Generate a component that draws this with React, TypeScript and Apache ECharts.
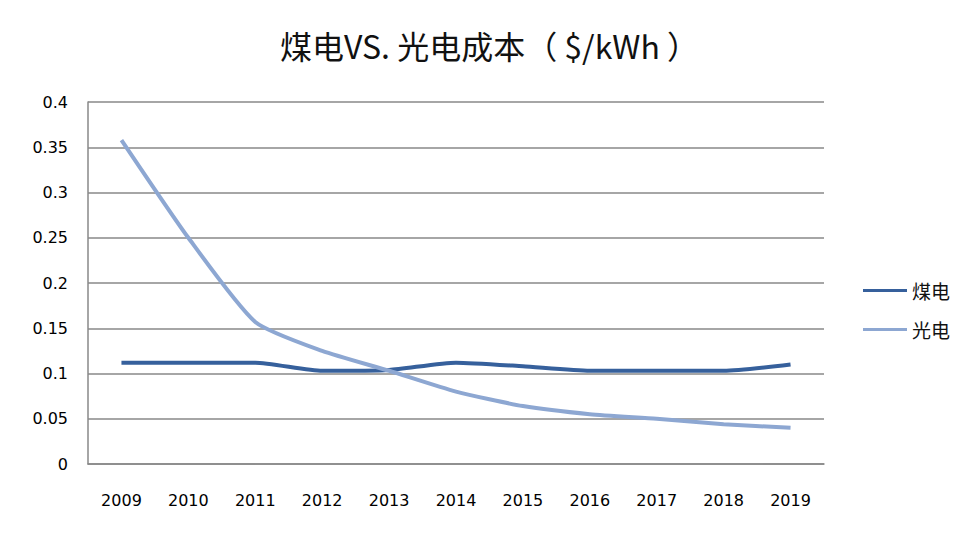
import React, { useEffect, useRef } from "react";
import * as echarts from "echarts";

const years = ["2009", "2010", "2011", "2012", "2013", "2014", "2015", "2016", "2017", "2018", "2019"];
const coalCost = [0.112, 0.112, 0.112, 0.103, 0.104, 0.112, 0.108, 0.103, 0.103, 0.103, 0.11];
const solarCost = [0.358, 0.25, 0.157, 0.125, 0.103, 0.08, 0.064, 0.055, 0.05, 0.044, 0.04];
const yTicks = [0, 0.05, 0.1, 0.15, 0.2, 0.25, 0.3, 0.35, 0.4];

export default function App() {
  const ref = useRef<HTMLDivElement>(null);
  useEffect(() => {
    if (!ref.current) return;
    const chart = echarts.init(ref.current, null, { renderer: "svg" });
    const font = "'Noto Sans CJK SC', 'Noto Sans', sans-serif";
    const numFont = "'DejaVu Sans', Verdana, sans-serif";
    chart.setOption({
      animation: false,
      backgroundColor: "#ffffff",
      title: {
        text: "煤电VS. 光电成本（ $/kWh ）",
        left: "center",
        top: 24,
        textStyle: { fontFamily: font, fontSize: 32, fontWeight: "normal", color: "#111" },
      },
      legend: {
        orient: "vertical",
        left: 858,
        top: 276,
        itemGap: 20,
        itemWidth: 44,
        itemHeight: 14,
        icon: "path://M0,6 L44,6 L44,9 L0,9 Z",
        textStyle: { fontFamily: font, fontSize: 19, color: "#111" },
        data: ["煤电", "光电"],
      },
      grid: { left: 88, right: 155, top: 102, bottom: 76, containLabel: false },
      xAxis: {
        type: "category",
        data: years,
        boundaryGap: true,
        axisLine: { show: true, lineStyle: { color: "#888", width: 1.5 } },
        axisTick: { show: false },
        axisLabel: { fontFamily: numFont, fontSize: 16, color: "#000", margin: 28 },
      },
      yAxis: {
        type: "value",
        min: yTicks[0],
        max: yTicks[yTicks.length - 1],
        interval: 0.05,
        axisLine: { show: true, lineStyle: { color: "#888", width: 1.5 } },
        axisTick: { show: false },
        splitLine: { show: true, lineStyle: { color: "#888", width: 1.5 } },
        axisLabel: {
          fontFamily: numFont,
          fontSize: 16,
          color: "#000",
          margin: 20,
          formatter: (v: number) => String(Math.round(v * 100) / 100),
        },
      },
      series: [
        {
          name: "煤电",
          type: "line",
          data: coalCost,
          smooth: 0.2,
          symbol: "none",
          lineStyle: { color: "#36609C", width: 4 },
          itemStyle: { color: "#36609C" },
        },
        {
          name: "光电",
          type: "line",
          data: solarCost,
          smooth: 0.2,
          symbol: "none",
          lineStyle: { color: "#8DA7D2", width: 4 },
          itemStyle: { color: "#8DA7D2" },
        },
      ],
    });
    return () => chart.dispose();
  }, []);
  return <div ref={ref} style={{ width: 979, height: 540, position: "absolute", left: 0, top: 0 }} />;
}
